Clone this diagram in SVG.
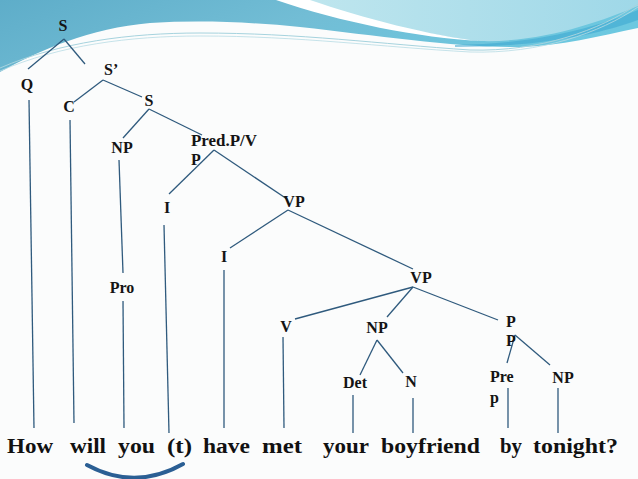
<svg xmlns="http://www.w3.org/2000/svg" width="638" height="479" viewBox="0 0 638 479">
<defs>
<linearGradient id="gBlue" x1="0" y1="0" x2="1" y2="0.3">
<stop offset="0" stop-color="#5eadc9"/>
<stop offset="0.5" stop-color="#72bdd5"/>
<stop offset="1" stop-color="#6cc8e0"/>
</linearGradient>
<linearGradient id="gCyan" x1="0" y1="0" x2="1" y2="0">
<stop offset="0" stop-color="#bfe6ee"/>
<stop offset="1" stop-color="#9fd8e8"/>
</linearGradient>
<style>
.lbl{font-family:"Liberation Serif","Times New Roman",serif;font-weight:bold;font-size:16px;fill:#141414}
.c{text-anchor:middle}
.word{font-family:"Liberation Serif","Times New Roman",serif;font-weight:bold;font-size:20px;fill:#111}
.edge{stroke:#2f5a7d;stroke-width:1.3;fill:none}
</style>
</defs>
<g id="background">
<rect width="638" height="479" fill="#fbfcfc"/>
<path d="M0,0 H638 V28 C600,36 560,46 520,47 C460,48 380,36 300,27 C250,22 200,20 150,23 C90,28 40,50 0,72 Z" fill="url(#gBlue)"/>
<path d="M300,0 C355,18 430,36 480,41 C540,43 600,22 638,6 V0 Z" fill="url(#gCyan)"/>
<path d="M276,0 L310,0 C362,18 432,36 480,41 C420,38 340,22 276,0 Z" fill="#ffffff"/>
<path d="M455,45 C540,44 600,26 638,10 L638,20 C600,34 540,47 455,47 Z" fill="#3aa6cf" opacity="0.55"/>
<path d="M0,68 C60,42 130,33 200,33 C300,33 380,44 470,50 C540,52 600,30 638,4" fill="none" stroke="#a6d3de" stroke-width="1"/>
<path d="M0,71 C60,45 130,36 200,36 C300,36 380,47 470,52 C540,54 600,33 638,7" fill="none" stroke="#b8dce4" stroke-width="0.8"/>
</g>
<g id="connectors">
<line class="edge" x1="64" y1="39" x2="28" y2="69"/>
<line class="edge" x1="64" y1="39" x2="85" y2="64"/>
<line class="edge" x1="103" y1="80" x2="74" y2="102"/>
<line class="edge" x1="103" y1="80" x2="142" y2="97"/>
<line class="edge" x1="149" y1="109" x2="123" y2="138"/>
<line class="edge" x1="149" y1="109" x2="202" y2="135"/>
<line class="edge" x1="214" y1="150" x2="169" y2="194"/>
<line class="edge" x1="214" y1="150" x2="287" y2="199"/>
<line class="edge" x1="288" y1="210" x2="230" y2="248"/>
<line class="edge" x1="288" y1="210" x2="413" y2="269"/>
<line class="edge" x1="413" y1="287" x2="295" y2="319"/>
<line class="edge" x1="413" y1="287" x2="387" y2="317"/>
<line class="edge" x1="413" y1="287" x2="498" y2="320"/>
<line class="edge" x1="377" y1="340" x2="360" y2="375"/>
<line class="edge" x1="377" y1="340" x2="403" y2="373"/>
<line class="edge" x1="515" y1="335" x2="507" y2="363"/>
<line class="edge" x1="515" y1="335" x2="550" y2="365"/>
<line class="edge" x1="29" y1="100" x2="34" y2="428"/>
<line class="edge" x1="70" y1="120" x2="74" y2="423"/>
<line class="edge" x1="119" y1="160" x2="123" y2="273"/>
<line class="edge" x1="123" y1="301" x2="124" y2="428"/>
<line class="edge" x1="164" y1="225" x2="169" y2="433"/>
<line class="edge" x1="224" y1="270" x2="224" y2="428"/>
<line class="edge" x1="283" y1="337" x2="284" y2="428"/>
<line class="edge" x1="353" y1="395" x2="353" y2="433"/>
<line class="edge" x1="413" y1="398" x2="413" y2="433"/>
<line class="edge" x1="508" y1="388" x2="508" y2="428"/>
<line class="edge" x1="558" y1="388" x2="558" y2="433"/>
<path d="M87,465 Q135,491 183,464" fill="none" stroke="#2b5f94" stroke-width="4" stroke-linecap="round"/>
</g>
<g id="node-S-top"><text class="lbl c" x="63" y="31">S</text></g>
<g id="node-Q"><text class="lbl c" x="27" y="90">Q</text></g>
<g id="node-Sbar"><text class="lbl" x="104" y="75">S’</text></g>
<g id="node-C"><text class="lbl c" x="69" y="112">C</text></g>
<g id="node-S"><text class="lbl c" x="149" y="106">S</text></g>
<g id="node-NP-subj"><text class="lbl c" x="122" y="153">NP</text></g>
<g id="node-PredP"><text class="lbl" x="191" y="146" textLength="66" lengthAdjust="spacingAndGlyphs">Pred.P/V</text><text class="lbl" x="191" y="165">P</text></g>
<g id="node-I"><text class="lbl c" x="167" y="213">I</text></g>
<g id="node-VP1"><text class="lbl c" x="294" y="207">VP</text></g>
<g id="node-I2"><text class="lbl c" x="224" y="262">I</text></g>
<g id="node-Pro"><text class="lbl c" x="122" y="293">Pro</text></g>
<g id="node-VP2"><text class="lbl c" x="421" y="283">VP</text></g>
<g id="node-V"><text class="lbl c" x="286" y="332">V</text></g>
<g id="node-NP-obj"><text class="lbl c" x="377" y="333">NP</text></g>
<g id="node-PP"><text class="lbl" x="506" y="327">P</text><text class="lbl" x="506" y="346">P</text></g>
<g id="node-Det"><text class="lbl c" x="355" y="388">Det</text></g>
<g id="node-N"><text class="lbl c" x="411" y="387">N</text></g>
<g id="node-Prep"><text class="lbl" x="490" y="382">Pre</text><text class="lbl" x="490" y="403">p</text></g>
<g id="node-NP-pp"><text class="lbl c" x="563" y="383">NP</text></g>
<g id="sentence">
<text class="word" x="7" y="453" textLength="46" lengthAdjust="spacingAndGlyphs">How</text>
<text class="word" x="70" y="453" textLength="36" lengthAdjust="spacingAndGlyphs">will</text>
<text class="word" x="118" y="453" textLength="37" lengthAdjust="spacingAndGlyphs">you</text>
<text class="word" x="167" y="453" textLength="25" lengthAdjust="spacingAndGlyphs">(t)</text>
<text class="word" x="203" y="453" textLength="47" lengthAdjust="spacingAndGlyphs">have</text>
<text class="word" x="262" y="453" textLength="40" lengthAdjust="spacingAndGlyphs">met</text>
<text class="word" x="323" y="453" textLength="46" lengthAdjust="spacingAndGlyphs">your</text>
<text class="word" x="381" y="453" textLength="99" lengthAdjust="spacingAndGlyphs">boyfriend</text>
<text class="word" x="500" y="453" textLength="22" lengthAdjust="spacingAndGlyphs">by</text>
<text class="word" x="533" y="453" textLength="85" lengthAdjust="spacingAndGlyphs">tonight?</text>
</g>
</svg>
